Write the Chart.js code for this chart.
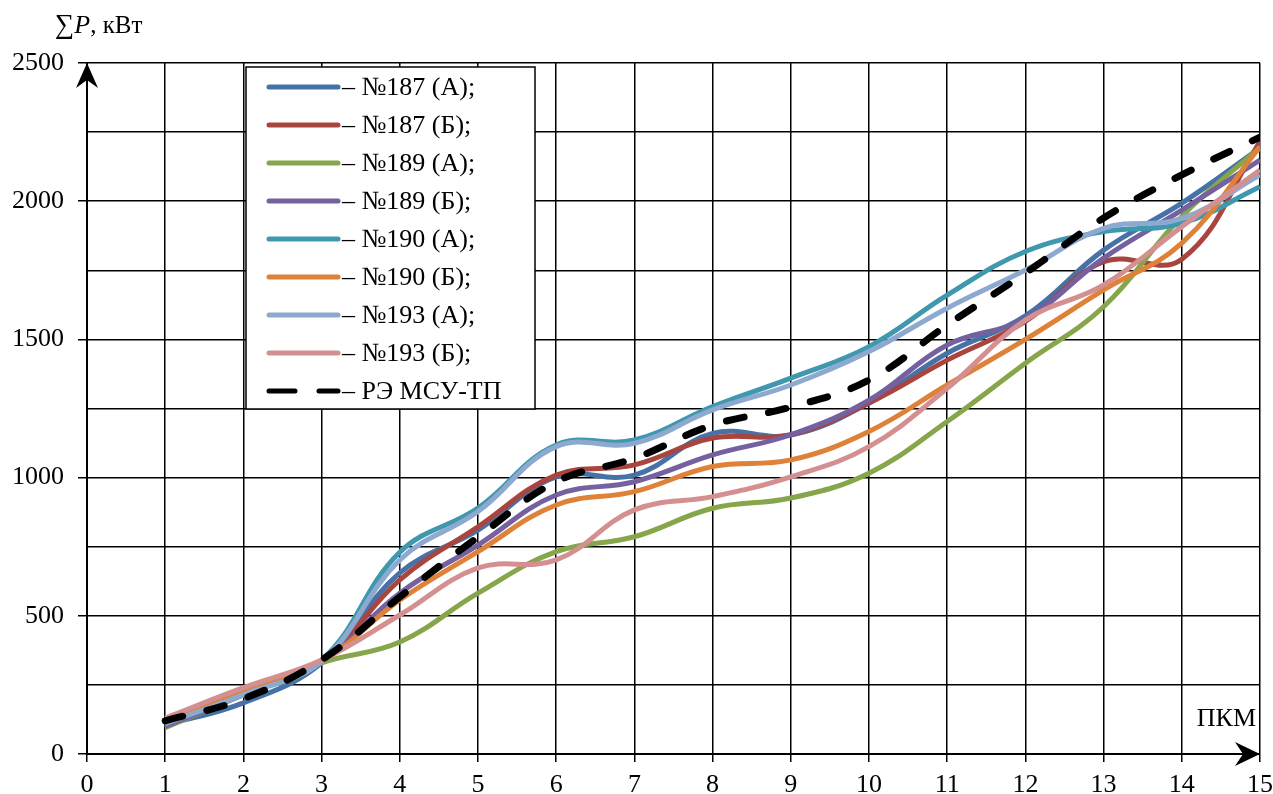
<!DOCTYPE html>
<html>
<head>
<meta charset="utf-8">
<script src="https://cdn.jsdelivr.net/npm/chart.js@4"></script>
<style>
  html, body { margin: 0; padding: 0; background: #fff; }
  #wrap { width: 1273px; height: 794px; }
</style>
</head>
<body>
<div id="wrap"><canvas id="pkmChart" width="1273" height="794"></canvas></div>
<script>
// ПКМ positions and power sums
const pkm = [1, 2, 3, 4, 5, 6, 7, 8, 9, 10, 11, 12, 13, 14, 15];

const loco187A = [105, 185, 330, 655, 810, 1003, 1009, 1160, 1154, 1270, 1450, 1585, 1823, 1993, 2192];
const loco187B = [120, 225, 335, 630, 822, 1009, 1046, 1143, 1155, 1270, 1425, 1565, 1781, 1790, 2215];
const loco189A = [95, 215, 330, 405, 582, 732, 786, 889, 926, 1016, 1203, 1414, 1618, 1945, 2195];
const loco189B = [100, 215, 335, 582, 756, 937, 985, 1082, 1155, 1280, 1480, 1575, 1794, 1968, 2149];
const loco190A = [110, 220, 340, 730, 890, 1118, 1136, 1257, 1360, 1474, 1660, 1818, 1890, 1920, 2052];
const loco190B = [115, 225, 335, 557, 732, 901, 949, 1040, 1064, 1167, 1335, 1500, 1679, 1848, 2197];
const loco193A = [110, 215, 335, 702, 877, 1112, 1124, 1245, 1335, 1456, 1613, 1751, 1902, 1938, 2095];
const loco193B = [130, 240, 340, 503, 673, 702, 883, 931, 1003, 1112, 1323, 1570, 1697, 1908, 2113];
const reMsuTp  = [120, 200, 340, 568, 785, 985, 1070, 1190, 1255, 1353, 1552, 1740, 1939, 2095, 2232];

const seriesNames = ["– №187 (А);", "– №187 (Б);", "– №189 (А);", "– №189 (Б);",
  "– №190 (А);", "– №190 (Б);", "– №193 (А);", "– №193 (Б);", "– РЭ МСУ-ТП"];
const seriesValues = [loco187A, loco187B, loco189A, loco189B, loco190A, loco190B, loco193A, loco193B, reMsuTp];
const seriesColors = ["#4672a8", "#a9453f", "#87a54a", "#7560a0", "#3f98ae", "#de8239", "#8ea9d0", "#d49090", "#000000"];

const yTicks = [0, 500, 1000, 1500, 2000, 2500];

const serif = "'Liberation Serif', 'Times New Roman', serif";

const datasets = seriesValues.map((vals, i) => {
  const dashed = i === seriesValues.length - 1;
  return {
    label: seriesNames[i],
    data: vals.map((v, k) => ({ x: pkm[k], y: v })),
    borderColor: seriesColors[i],
    borderWidth: dashed ? 7 : 5,
    borderDash: dashed ? [18, 25] : [],
    borderCapStyle: dashed ? "round" : "butt",
    tension: 0.4,
    pointRadius: 0,
    fill: false,
    order: seriesValues.length - i
  };
});

// axis arrows, axis titles and the boxed legend
const decor = {
  id: "decor",
  afterDraw(chart) {
    const { ctx, chartArea: a } = chart;
    ctx.save();
    ctx.fillStyle = "#000";

    // arrow on y axis
    ctx.beginPath();
    ctx.moveTo(a.left, a.top);
    ctx.lineTo(a.left - 11, a.top + 25);
    ctx.lineTo(a.left, a.top + 17);
    ctx.lineTo(a.left + 11, a.top + 25);
    ctx.closePath();
    ctx.fill();

    // arrow on x axis
    ctx.beginPath();
    ctx.moveTo(a.right, a.bottom);
    ctx.lineTo(a.right - 25, a.bottom - 12);
    ctx.lineTo(a.right - 17, a.bottom);
    ctx.lineTo(a.right - 25, a.bottom + 12);
    ctx.closePath();
    ctx.fill();

    // y title: ∑P, кВт
    ctx.textBaseline = "alphabetic";
    ctx.textAlign = "left";
    let x = 55;
    const yb = 33;
    ctx.font = "27px " + serif;
    ctx.fillText("∑", x, yb);
    x += ctx.measureText("∑").width;
    ctx.font = "italic 26px " + serif;
    ctx.fillText("P", x, yb);
    x += ctx.measureText("P").width;
    ctx.font = "25px " + serif;
    ctx.fillText(", кВт", x, yb);

    // x title
    ctx.font = "26px " + serif;
    ctx.textAlign = "right";
    ctx.fillText("ПКМ", a.right - 4, 726);

    // legend box
    const bx = 246, by = 67, bw = 289, bh = 342;
    ctx.fillStyle = "#fff";
    ctx.fillRect(bx, by, bw, bh);
    ctx.strokeStyle = "#000";
    ctx.lineWidth = 1.5;
    ctx.strokeRect(bx, by, bw, bh);

    ctx.font = "26px " + serif;
    ctx.textAlign = "left";
    ctx.textBaseline = "middle";
    chart.data.datasets.forEach((ds, i) => {
      const ry = 87 + i * 38;
      ctx.strokeStyle = ds.borderColor;
      ctx.lineWidth = 5;
      ctx.lineCap = "round";
      ctx.setLineDash(ds.borderDash.length ? [26, 24] : []);
      ctx.beginPath();
      ctx.moveTo(269, ry);
      ctx.lineTo(338, ry);
      ctx.stroke();
      ctx.setLineDash([]);
      ctx.fillStyle = "#000";
      ctx.fillText(ds.label, 342, ry + 1);
    });
    ctx.restore();
  }
};

new Chart(document.getElementById("pkmChart").getContext("2d"), {
  type: "line",
  data: { datasets: datasets },
  options: {
    responsive: false,
    animation: false,
    layout: { padding: { top: 63, right: 13, left: 0, bottom: 0 } },
    plugins: {
      legend: { display: false },
      tooltip: { enabled: false }
    },
    scales: {
      x: {
        type: "linear",
        min: 0,
        max: 15,
        afterFit: (s) => { s.height = 40; s.paddingLeft = 0; s.paddingRight = 0; },
        ticks: {
          stepSize: 1,
          color: "#000",
          padding: 8,
          font: { family: serif, size: 26 }
        },
        grid: { color: "#000", lineWidth: 1.5, tickLength: 8, tickColor: "#000" },
        border: { color: "#000", width: 2 }
      },
      y: {
        min: 0,
        max: 2500,
        afterFit: (s) => { s.width = 87; s.paddingTop = 0; s.paddingBottom = 0; },
        ticks: {
          stepSize: 250,
          color: "#000",
          padding: 14,
          font: { family: serif, size: 26 },
          callback: (v) => (yTicks.includes(v) ? String(v) : "")
        },
        grid: {
          color: "#000",
          lineWidth: 1.5,
          tickLength: 9,
          tickColor: (c) => (c.tick && yTicks.includes(c.tick.value) ? "#000" : "rgba(0,0,0,0)")
        },
        border: { color: "#000", width: 2 }
      }
    }
  },
  plugins: [decor]
});
</script>
</body>
</html>
